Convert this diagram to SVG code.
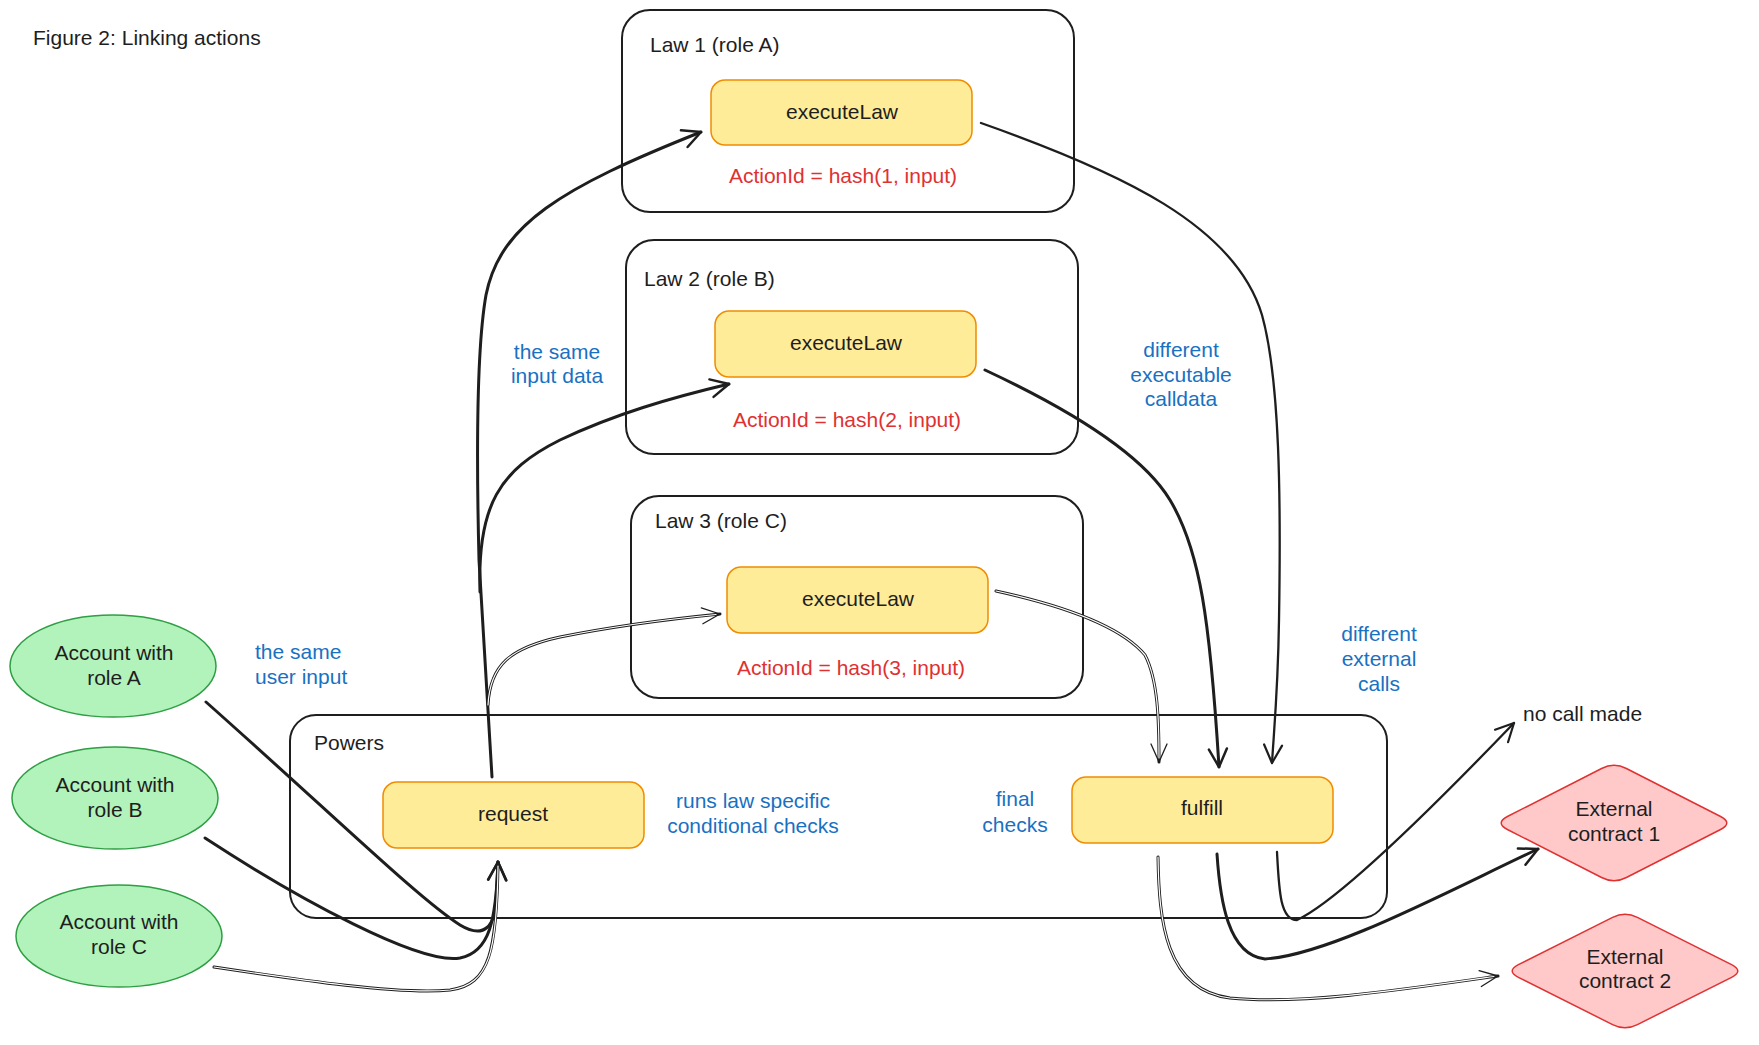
<svg xmlns="http://www.w3.org/2000/svg" width="1759" height="1045" viewBox="0 0 1759 1045">
<style>
text{font-family:"Liberation Sans","Noto Sans",sans-serif;font-size:21px;fill:#1e1e1e}
.c{text-anchor:middle}
.blue{fill:#1971c2}
.red{fill:#e03131}
.box{fill:none;stroke:#1e1e1e;stroke-width:2}
.fn{fill:#ffec99;stroke:#f08c00;stroke-width:1.5}
.acc{fill:#b2f2bb;stroke:#2f9e44;stroke-width:1.5}
.ext{fill:#ffc9c9;stroke:#e03131;stroke-width:1.5}
.thick{fill:none;stroke:#1e1e1e;stroke-width:3;stroke-linecap:round}
.mid{fill:none;stroke:#1e1e1e;stroke-width:2.3;stroke-linecap:round}
.dblo{fill:none;stroke:#1e1e1e;stroke-width:3;stroke-linecap:round}
.dbli{fill:none;stroke:#ffffff;stroke-width:1.2;stroke-linecap:round}
</style>
<defs>
<marker id="ah" viewBox="0 0 24 24" refX="21" refY="12" markerWidth="24" markerHeight="24" orient="auto" markerUnits="userSpaceOnUse">
<path d="M3,3 L21,12 L3,21" fill="none" stroke="#1e1e1e" stroke-width="2.5" stroke-linecap="round" stroke-linejoin="round"/>
</marker>
<marker id="ahm" viewBox="0 0 24 24" refX="21" refY="12" markerWidth="24" markerHeight="24" orient="auto" markerUnits="userSpaceOnUse">
<path d="M3,3 L21,12 L3,21" fill="none" stroke="#1e1e1e" stroke-width="2.2" stroke-linecap="round" stroke-linejoin="round"/>
</marker>
<marker id="aht" viewBox="0 0 24 24" refX="21" refY="12" markerWidth="24" markerHeight="24" orient="auto" markerUnits="userSpaceOnUse">
<path d="M3,4 L21,12 L3,20" fill="none" stroke="#1e1e1e" stroke-width="1.3" stroke-linecap="round" stroke-linejoin="round"/>
</marker>
</defs>
<rect width="1759" height="1045" fill="#ffffff"/>
<text x="33" y="45">Figure 2: Linking actions</text>

<g id="law1">
<rect class="box" x="622" y="10" width="452" height="202" rx="28"/>
<text x="650" y="52">Law 1 (role A)</text>
</g>
<g id="law2">
<rect class="box" x="626" y="240" width="452" height="214" rx="28"/>
<text x="644" y="286">Law 2 (role B)</text>
</g>
<g id="law3">
<rect class="box" x="631" y="496" width="452" height="202" rx="28"/>
<text x="655" y="528">Law 3 (role C)</text>
</g>
<g id="powers">
<rect class="box" x="290" y="715" width="1097" height="203" rx="26"/>
<text x="314" y="750">Powers</text>
</g>

<g id="exec1">
<rect class="fn" x="711" y="80" width="261" height="65" rx="14"/>
<text class="c" x="842" y="119">executeLaw</text>
</g>
<text class="c red" x="843" y="183">ActionId = hash(1, input)</text>
<g id="exec2">
<rect class="fn" x="715" y="311" width="261" height="66" rx="14"/>
<text class="c" x="846" y="350">executeLaw</text>
</g>
<text class="c red" x="847" y="427">ActionId = hash(2, input)</text>
<g id="exec3">
<rect class="fn" x="727" y="567" width="261" height="66" rx="14"/>
<text class="c" x="858" y="606">executeLaw</text>
</g>
<text class="c red" x="851" y="675">ActionId = hash(3, input)</text>

<g id="request">
<rect class="fn" x="383" y="782" width="261" height="66" rx="14"/>
<text class="c" x="513" y="821">request</text>
</g>
<g id="fulfill">
<rect class="fn" x="1072" y="777" width="261" height="66" rx="14"/>
<text class="c" x="1202" y="815">fulfill</text>
</g>

<g id="accA">
<ellipse class="acc" cx="113" cy="666" rx="103" ry="51"/>
<text class="c" x="114" y="660">Account with</text>
<text class="c" x="114" y="685">role A</text>
</g>
<g id="accB">
<ellipse class="acc" cx="115" cy="798" rx="103" ry="51"/>
<text class="c" x="115" y="792">Account with</text>
<text class="c" x="115" y="817">role B</text>
</g>
<g id="accC">
<ellipse class="acc" cx="119" cy="936" rx="103" ry="51"/>
<text class="c" x="119" y="929">Account with</text>
<text class="c" x="119" y="954">role C</text>
</g>

<g id="ext1">
<path class="ext" d="M1601.6,768.5 Q1614,762 1626.4,768.5 L1720.6,816.5 Q1733,823 1720.6,829.5 L1626.4,877.5 Q1614,884 1601.6,877.5 L1507.4,829.5 Q1495,823 1507.4,816.5 Z"/>
<text class="c" x="1614" y="816">External</text>
<text class="c" x="1614" y="841">contract 1</text>
</g>
<g id="ext2">
<path class="ext" d="M1612.6,917.4 Q1625,911 1637.4,917.4 L1731.6,964.6 Q1744,971 1731.6,977.4 L1637.4,1024.6 Q1625,1031 1612.6,1024.6 L1518.4,977.4 Q1506,971 1518.4,964.6 Z"/>
<text class="c" x="1625" y="964">External</text>
<text class="c" x="1625" y="988">contract 2</text>
</g>
<g id="nocall">
<text x="1523" y="721">no call made</text>
</g>

<g id="labels">
<text class="c blue" x="557" y="359">the same</text>
<text class="c blue" x="557" y="383">input data</text>
<text class="blue" x="255" y="659">the same</text>
<text class="blue" x="255" y="684">user input</text>
<text class="c blue" x="1181" y="357">different</text>
<text class="c blue" x="1181" y="382">executable</text>
<text class="c blue" x="1181" y="406">calldata</text>
<text class="c blue" x="1379" y="641">different</text>
<text class="c blue" x="1379" y="666">external</text>
<text class="c blue" x="1379" y="691">calls</text>
<text class="c blue" x="753" y="808">runs law specific</text>
<text class="c blue" x="753" y="833">conditional checks</text>
<text class="c blue" x="1015" y="806">final</text>
<text class="c blue" x="1015" y="832">checks</text>
</g>

<g id="connectors">
<!-- request to laws -->
<path class="thick" d="M492,777 L479,560 C476,440 478,340 486,295 C500,225 560,188 701,132" marker-end="url(#ah)"/>
<path class="thick" d="M480,592 C477,505 500,470 560,440 C615,414 670,398 729,384" marker-end="url(#ah)"/>
<path class="dblo" d="M488,705 C490,665 510,648 560,637 C610,627 660,620 720,614" marker-end="url(#aht)"/>
<path class="dbli" d="M488,705 C490,665 510,648 560,637 C610,627 660,620 716,614.5"/>
<!-- laws to fulfill -->
<path class="mid" d="M981,123 C1120,172 1235,225 1262,315 C1280,380 1281,500 1279,620 C1278,690 1274,730 1272,763" marker-end="url(#ahm)"/>
<path class="thick" d="M985,370 C1060,405 1140,450 1170,500 C1200,550 1210,620 1219,767" marker-end="url(#ah)"/>
<path class="dblo" d="M996,591 C1060,605 1120,625 1145,655 C1158,680 1159,720 1159,762" marker-end="url(#aht)"/>
<path class="dbli" d="M996,591 C1060,605 1120,625 1145,655 C1158,680 1159,720 1159,758"/>
<!-- accounts to request -->
<path class="thick" d="M206,702 C330,812 420,900 460,925 C485,940 495,925 496,900 L498,862" marker-end="url(#ah)"/>
<path class="thick" d="M205,838 C300,900 420,965 460,958 C490,952 496,920 498,862" marker-end="url(#ah)"/>
<path class="dblo" d="M214,967 C300,980 400,995 450,990 C490,985 497,950 498,862"/>
<path class="dbli" d="M214,967 C300,980 400,995 450,990 C490,985 497,950 498,866"/>
<!-- fulfill to outputs -->
<path class="dblo" d="M1158,857 C1159,920 1165,990 1230,998 C1300,1005 1400,990 1498,976" marker-end="url(#aht)"/>
<path class="dbli" d="M1158,857 C1159,920 1165,990 1230,998 C1300,1005 1400,990 1494,976.5"/>
<path class="thick" d="M1217,854 C1220,900 1228,955 1265,959 C1330,955 1450,890 1538,849" marker-end="url(#ah)"/>
<path class="mid" d="M1277,852 C1279,890 1280,920 1297,920 C1340,900 1440,800 1514,723" marker-end="url(#ahm)"/>
</g>
</svg>
